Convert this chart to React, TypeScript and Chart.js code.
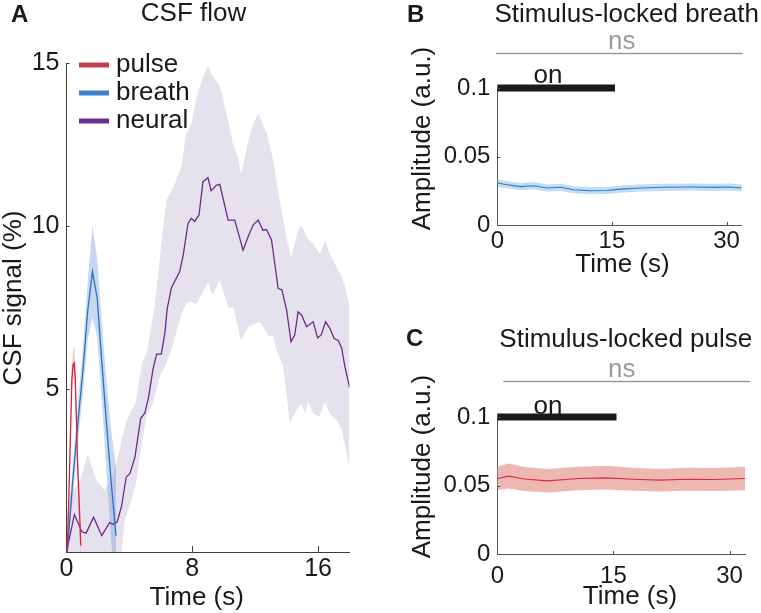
import React, { useEffect, useRef } from "react";
import { Chart, registerables } from "chart.js";

Chart.register(...registerables);

const FONT = '"Liberation Sans", Arial, Helvetica, sans-serif';
Chart.defaults.font.family = FONT;
Chart.defaults.color = "#1a1a1a";

// ---------------- Panel A: CSF flow ----------------
const aXTicks = [0, 8, 16];
const aYTicks = [5, 10, 15];

const pulseTime = [0.05, 0.2, 0.34, 0.42, 0.49, 0.56, 0.7, 0.91];
const pulseSignal = [0, 2.6, 5.3, 5.75, 5.8, 5.3, 2.8, 0.2];
const pulseUpper = [0.4, 3.1, 5.8, 6.2, 6.3, 5.8, 3.4, 0.9];
const pulseLower = [0, 2.1, 4.8, 5.3, 5.3, 4.8, 2.2, -0.5];

const breathTime = [0.05, 0.4, 0.75, 1.05, 1.35, 1.65, 1.95, 2.25, 2.55, 2.85, 3.15];
const breathSignal = [0, 2.2, 4.1, 5.6, 7.4, 8.6, 7.8, 5.8, 3.9, 2.1, 0.5];
const breathUpper = [0.4, 2.7, 4.7, 6.3, 8.3, 10.0, 9.0, 7.0, 5.2, 3.7, 2.6];
const breathLower = [0, 1.7, 3.5, 4.9, 6.5, 7.2, 6.6, 4.6, 2.4, 0.3, -1.6];

const neuralTime = [
  0, 0.5, 0.98, 1.25, 1.72, 2.24, 2.74, 2.95, 3.22, 3.5, 3.8, 4.03, 4.35, 4.72, 4.98, 5.22,
  5.5, 5.73, 6.03, 6.26, 6.4, 6.67, 7.2, 7.42, 7.73, 7.94, 8.15, 8.43, 8.68, 9.0, 9.2, 9.53,
  9.75, 10.28, 10.7, 11.23, 11.55, 11.87, 12.19, 12.5, 12.72, 13.04, 13.46, 13.7, 14.0, 14.28,
  14.52, 14.73, 14.95, 15.27, 15.69, 15.97, 16.2, 16.48, 16.75, 17.02, 17.28, 17.5, 17.7, 18.0,
];
const neuralSignal = [
  0, 1.15, 0.62, 0.58, 1.07, 0.5, 0.9, 0.85, 0.92, 1.4, 2.3, 2.4, 2.9, 4.1, 4.26, 4.75,
  5.6, 6.07, 6.07, 6.73, 7.45, 8.1, 8.6, 9.1, 10.08, 10.24, 10.14, 10.34, 11.36, 11.48, 11.08, 11.25,
  11.28, 10.18, 10.18, 9.26, 9.67, 10.03, 10.18, 9.87, 9.89, 9.57, 8.09, 8.04, 7.42, 6.45,
  6.66, 7.37, 7.27, 6.91, 7.06, 6.57, 6.66, 7.06, 6.86, 6.55, 6.49, 6.26, 5.7, 5.05,
];
const neuralUpperTime = [
  0, 0.2, 0.8, 1.35, 1.9, 2.4, 2.95, 3.4, 3.8, 4.4, 4.8, 5.1, 5.6, 6.0, 6.35, 6.8, 7.3, 7.6,
  7.95, 8.25, 8.7, 9.0, 9.3, 9.75, 10.15, 10.6, 10.9, 11.1, 11.25, 11.55, 11.9, 12.2, 12.5,
  12.75, 13.15, 13.55, 14.0, 14.3, 14.75, 14.95, 15.35, 15.7, 16.1, 16.45, 16.75, 17.05, 17.4,
  17.7, 17.9, 18.0,
];
const neuralUpper = [
  1.0, 1.8, 2.1, 3.0, 2.2, 1.9, 2.3, 3.2, 4.0, 4.6, 5.8, 6.1, 7.5, 9.3, 10.8, 11.2, 11.8, 12.8,
  13.15, 13.9, 14.6, 14.9, 14.6, 14.3, 13.5, 12.5, 12.1, 11.6, 11.9, 12.6, 13.15, 13.45, 13.1,
  12.85, 12.0, 10.8, 9.6, 9.05, 9.9, 10.0, 9.6, 9.45, 9.15, 9.55, 9.15, 8.85, 8.55,
  8.15, 7.75, 7.6,
];
const neuralLowerTime = [
  0, 3.5, 3.72, 4.14, 4.46, 4.78, 5.1, 5.52, 5.95, 6.37, 6.8, 7.3, 7.6, 7.85, 8.25, 8.7, 9.0,
  9.3, 9.75, 10.28, 10.6, 11.1, 11.55, 11.97, 12.3, 12.83, 13.15, 13.36, 13.78, 14.2, 14.63,
  14.95, 15.16, 15.37, 15.69, 16.1, 16.43, 16.75, 17.17, 17.5, 17.8, 18.0,
];
const neuralLower = [
  0, 0, 1.0, 1.6, 2.2, 3.3, 4.2, 4.6, 5.4, 5.8, 6.4, 7.3, 7.6, 7.7, 7.6, 8.0, 8.25,
  7.9, 8.35, 7.5, 7.5, 6.5, 6.9, 7.0, 7.05, 6.65, 6.6, 6.2, 5.7, 3.95, 4.35,
  4.55, 4.25, 4.6, 4.25, 4.15, 4.6, 4.25, 4.05, 3.75, 3.1, 2.5,
];

// ---------------- Panels B and C ----------------
const lockXTicks = [0, 15, 30];
const lockYTicks = [0, 0.05, 0.1];
const onPeriod = [0, 15.4];
const onLevel = 0.1;

const breathLockTime = [0, 1.3, 3, 4.8, 6.5, 8.3, 10, 12.2, 14.3, 16.1, 18.7, 21.7, 25.2, 28.3, 30.4, 32];
const breathLockAmp = [0.0306, 0.0294, 0.028, 0.0287, 0.027, 0.0275, 0.0257, 0.025, 0.0252, 0.0262, 0.027, 0.0275, 0.0277, 0.0275, 0.0277, 0.027];
const breathLockUpper = [0.0332, 0.032, 0.0306, 0.0313, 0.0296, 0.0301, 0.0283, 0.0276, 0.0278, 0.0288, 0.0296, 0.0301, 0.0303, 0.0301, 0.0303, 0.0296];
const breathLockLower = [0.028, 0.0268, 0.0254, 0.0261, 0.0244, 0.0249, 0.0231, 0.0224, 0.0226, 0.0236, 0.0244, 0.0249, 0.0251, 0.0249, 0.0251, 0.0244];

const pulseLockTime = [0, 1.5, 3.5, 6.5, 10.5, 14, 17.5, 21, 24.5, 28, 32];
const pulseLockAmp = [0.0551, 0.0568, 0.0548, 0.0534, 0.0551, 0.0556, 0.0546, 0.0539, 0.0546, 0.0544, 0.0551];
const pulseLockUpper = [0.0636, 0.066, 0.0635, 0.062, 0.0637, 0.0645, 0.063, 0.062, 0.063, 0.0628, 0.0636];
const pulseLockLower = [0.0468, 0.0478, 0.046, 0.0448, 0.0466, 0.047, 0.0462, 0.0456, 0.0462, 0.046, 0.0466];

// ---------------- helpers ----------------
const xy = (t: number[], v: number[]) => t.map((x, i) => ({ x, y: v[i] }));

type Txt = { t: string; x: number; y: number; size: number; bold?: boolean; color?: string; align?: CanvasTextAlign; rotate?: boolean };
type Ln = { x1: number; y1: number; x2: number; y2: number; color: string; width: number };
type Decor = { texts: Txt[]; lines: Ln[]; tickX: number; tickY: number; tickColor: string };

function makeDecor(d: Decor) {
  return {
    id: "decor",
    afterDraw(chart: any) {
      const { ctx, chartArea } = chart;
      ctx.save();
      const xs = chart.scales.x;
      const ys = chart.scales.y;
      ctx.strokeStyle = d.tickColor;
      ctx.lineWidth = 1;
      xs.ticks.forEach((tk: any) => {
        if (tk.value === xs.min) return;
        const px = Math.round(xs.getPixelForValue(tk.value)) + 0.5;
        ctx.beginPath();
        ctx.moveTo(px, chartArea.bottom);
        ctx.lineTo(px, chartArea.bottom - d.tickX);
        ctx.stroke();
      });
      ys.ticks.forEach((tk: any) => {
        if (tk.value === ys.min) return;
        const py = Math.round(ys.getPixelForValue(tk.value)) + 0.5;
        ctx.beginPath();
        ctx.moveTo(chartArea.left, py);
        ctx.lineTo(chartArea.left + d.tickY, py);
        ctx.stroke();
      });
      d.lines.forEach((l) => {
        ctx.strokeStyle = l.color;
        ctx.lineWidth = l.width;
        ctx.lineCap = "butt";
        ctx.beginPath();
        ctx.moveTo(l.x1, l.y1);
        ctx.lineTo(l.x2, l.y2);
        ctx.stroke();
      });
      d.texts.forEach((tx) => {
        ctx.font = `${tx.bold ? "bold " : ""}${tx.size}px ${FONT}`;
        ctx.fillStyle = tx.color || "#1a1a1a";
        ctx.textAlign = tx.align || "center";
        ctx.textBaseline = "alphabetic";
        if (tx.rotate) {
          ctx.save();
          ctx.translate(tx.x, tx.y);
          ctx.rotate(-Math.PI / 2);
          ctx.fillText(tx.t, 0, 0);
          ctx.restore();
        } else {
          ctx.fillText(tx.t, tx.x, tx.y);
        }
      });
      ctx.restore();
    },
  };
}

function lineDs(data: any[], o: any) {
  return {
    data,
    pointRadius: 0,
    pointHoverRadius: 0,
    tension: 0,
    fill: false,
    borderWidth: 1.3,
    ...o,
  };
}

function bandPair(t: number[], lo: number[], tu: number[], up: number[], color: string, order: number) {
  return [
    lineDs(xy(t, lo), { borderWidth: 0, borderColor: "rgba(0,0,0,0)", order }),
    lineDs(xy(tu, up), { borderWidth: 0, borderColor: "rgba(0,0,0,0)", fill: "-1", backgroundColor: color, order }),
  ];
}

function scalesFor(xmin: number, xmax: number, xt: number[], ymin: number, ymax: number, yt: number[], sz: any) {
  return {
    x: {
      type: "linear",
      min: xmin,
      max: xmax,
      grid: { display: false, drawTicks: false },
      border: { display: true, color: sz.axis, width: 1 },
      afterBuildTicks: (s: any) => { s.ticks = xt.map((v) => ({ value: v })); },
      afterFit: (s: any) => { s.height = sz.xh; },
      ticks: { font: { size: sz.tick }, color: "#1a1a1a", padding: sz.xpad, maxRotation: 0, autoSkip: false, callback: (v: any) => String(v) },
    },
    y: {
      type: "linear",
      min: ymin,
      max: ymax,
      grid: { display: false, drawTicks: false },
      border: { display: true, color: sz.axis, width: 1 },
      afterBuildTicks: (s: any) => { s.ticks = yt.map((v) => ({ value: v })); },
      afterFit: (s: any) => { s.width = sz.yw; },
      ticks: { font: { size: sz.tick }, color: "#1a1a1a", padding: sz.ypad, autoSkip: false, callback: (v: any) => String(v) },
    },
  };
}

const baseOpts = {
  responsive: true,
  maintainAspectRatio: false,
  animation: false,
  events: [],
  plugins: { legend: { display: false }, tooltip: { enabled: false } },
};

// colours
const PULSE = "#d9213f";
const BREATH = "#2473c6";
const NEURAL = "#6c2a8c";

function buildA() {
  const datasets: any[] = [
    ...bandPair(neuralLowerTime, neuralLower, neuralUpperTime, neuralUpper, "rgba(200,190,215,0.45)", 30),
    ...bandPair(breathTime, breathLower, breathTime, breathUpper, "rgba(110,150,215,0.38)", 20),
    ...bandPair(pulseTime, pulseLower, pulseTime, pulseUpper, "rgba(235,120,110,0.35)", 10),
    lineDs(xy(neuralTime, neuralSignal), { borderColor: NEURAL, order: 3 }),
    lineDs(xy(breathTime, breathSignal), { borderColor: BREATH, order: 2 }),
    lineDs(xy(pulseTime, pulseSignal), { borderColor: PULSE, order: 1 }),
  ];
  const decor = makeDecor({
    tickX: 6,
    tickY: 3,
    tickColor: "#3c3c3c",
    lines: [
      { x1: 79, y1: 65, x2: 109, y2: 65, color: "#c0404f", width: 5 },
      { x1: 79, y1: 93, x2: 109, y2: 93, color: "#3a80cb", width: 5 },
      { x1: 79, y1: 121, x2: 109, y2: 121, color: "#6a2f90", width: 5 },
    ],
    texts: [
      { t: "A", x: 11, y: 22, size: 24, bold: true, align: "left" },
      { t: "CSF flow", x: 193.5, y: 21, size: 26 },
      { t: "pulse", x: 116, y: 72, size: 26, align: "left" },
      { t: "breath", x: 116, y: 100, size: 26, align: "left" },
      { t: "neural", x: 116, y: 128, size: 26, align: "left" },
      { t: "CSF signal (%)", x: 21, y: 298, size: 26, rotate: true },
      { t: "Time (s)", x: 196.7, y: 605, size: 26 },
    ],
  });
  return {
    type: "line",
    data: { datasets },
    options: {
      ...baseOpts,
      layout: { padding: { left: 0, right: 30.5, top: 63, bottom: 0 } },
      scales: scalesFor(0, 18, aXTicks, 0, 15, aYTicks, { axis: "#3c3c3c", xh: 61, yw: 66.5, tick: 25, xpad: 2.6, ypad: 7 }),
    },
    plugins: [decor],
  };
}

function buildLock(kind: "B" | "C") {
  const isB = kind === "B";
  const t = isB ? breathLockTime : pulseLockTime;
  const v = isB ? breathLockAmp : pulseLockAmp;
  const up = isB ? breathLockUpper : pulseLockUpper;
  const lo = isB ? breathLockLower : pulseLockLower;
  const lineColor = isB ? "#2b7bcc" : "#dc2a44";
  const bandColor = isB ? "#c2dcf2" : "#efb7b1";
  const datasets: any[] = [
    ...bandPair(t, lo, t, up, bandColor, 10),
    lineDs(xy(t, v), { borderColor: lineColor, borderWidth: 1.1, order: 2 }),
    lineDs(xy(onPeriod, [onLevel, onLevel]), { borderColor: "#1a1a1a", borderWidth: 7, borderCapStyle: "butt", clip: false, order: 1 }),
  ];
  const decor = makeDecor({
    tickX: 3,
    tickY: 3,
    tickColor: "#555",
    lines: isB
      ? [{ x1: 116, y1: 53.5, x2: 362.3, y2: 53.5, color: "#9a9a9a", width: 1.6 }]
      : [{ x1: 123.3, y1: 81.5, x2: 370, y2: 81.5, color: "#9a9a9a", width: 1.6 }],
    texts: isB
      ? [
          { t: "B", x: 27, y: 22, size: 24, bold: true, align: "left" },
          { t: "Stimulus-locked breath", x: 246.7, y: 22, size: 26 },
          { t: "ns", x: 241.7, y: 49.3, size: 26, color: "#9a9a9a" },
          { t: "on", x: 168, y: 83.3, size: 26 },
          { t: "Amplitude (a.u.)", x: 50, y: 138.5, size: 26, rotate: true },
          { t: "Time (s)", x: 242.5, y: 271.7, size: 26 },
        ]
      : [
          { t: "C", x: 26, y: 46, size: 24, bold: true, align: "left" },
          { t: "Stimulus-locked pulse", x: 245.8, y: 46.7, size: 26 },
          { t: "ns", x: 241.7, y: 76.7, size: 26, color: "#9a9a9a" },
          { t: "on", x: 168, y: 114, size: 26 },
          { t: "Amplitude (a.u.)", x: 50, y: 166.5, size: 26, rotate: true },
          { t: "Time (s)", x: 250, y: 304, size: 26 },
        ],
  });
  const sz = isB
    ? { axis: "#555", xh: 75, yw: 117.4, tick: 24, xpad: 2.3, ypad: 7 }
    : { axis: "#555", xh: 59, yw: 117.3, tick: 24, xpad: 8.3, ypad: 7 };
  return {
    type: "line",
    data: { datasets },
    options: {
      ...baseOpts,
      layout: { padding: isB ? { left: 0, right: 19.2, top: 88, bottom: 0 } : { left: 0, right: 16, top: 117, bottom: 0 } },
      scales: scalesFor(0, 32, lockXTicks, 0, 0.1, lockYTicks, sz),
    },
    plugins: [decor],
  };
}

function Panel({ build, left, top, width, height }: { build: () => any; left: number; top: number; width: number; height: number }) {
  const ref = useRef<HTMLCanvasElement>(null);
  useEffect(() => {
    const chart = new Chart(ref.current as HTMLCanvasElement, build());
    return () => chart.destroy();
  }, []);
  return (
    <div style={{ position: "absolute", left, top, width, height }}>
      <canvas ref={ref} />
    </div>
  );
}

export default function App() {
  return (
    <div style={{ position: "fixed", left: 0, top: 0, width: 761, height: 613, background: "#fff", overflow: "hidden" }}>
      <Panel build={buildA} left={0} top={0} width={380} height={613} />
      <Panel build={() => buildLock("B")} left={380} top={0} width={381} height={300} />
      <Panel build={() => buildLock("C")} left={380} top={300} width={381} height={313} />
    </div>
  );
}
